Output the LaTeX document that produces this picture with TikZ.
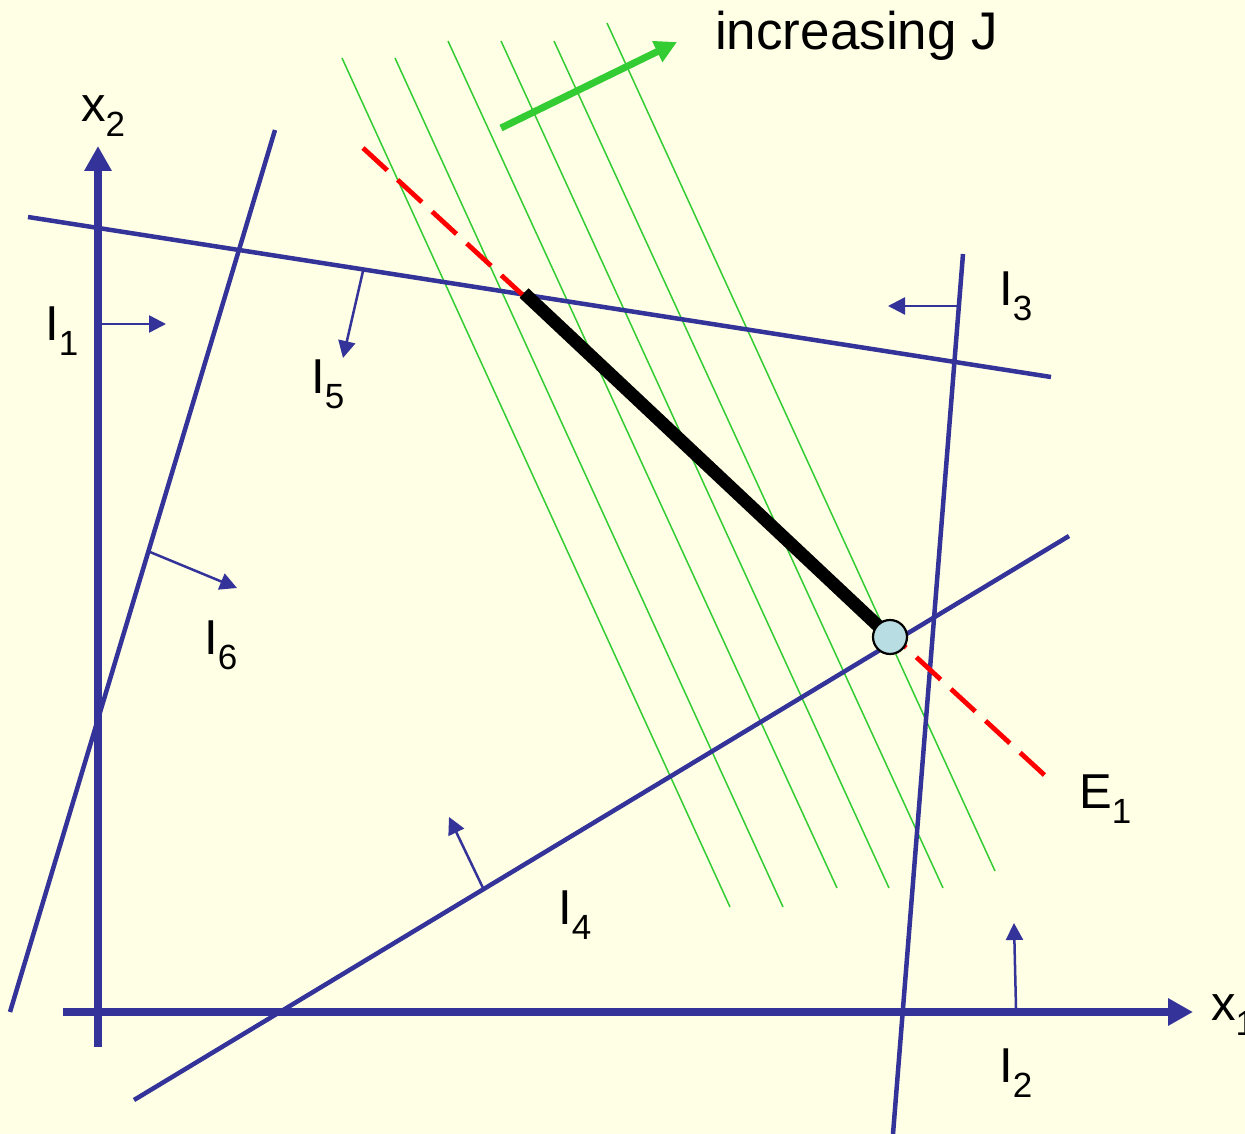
\documentclass[tikz,border=0pt]{standalone}
\usepackage{fontspec}
\setmainfont{Liberation Sans}
\usetikzlibrary{arrows.meta}
\definecolor{bg}{RGB}{255,255,229}
\definecolor{cblue}{RGB}{51,51,153}
\definecolor{cgreen}{RGB}{51,204,51}
\definecolor{cfill}{RGB}{184,222,227}
\newcommand\lsub[2]{#1\raisebox{-15pt}{\fontsize{35}{35}\selectfont #2}}
\begin{document}
\begin{tikzpicture}[x=1pt,y=-1pt,
 cline/.style={cblue, line width=4.5pt},
 axisline/.style={cblue, line width=7.5pt, -{Triangle[length=25pt,width=26pt]}},
 normarrow/.style={cblue, line width=2.5pt, -{Triangle[length=17pt,width=17pt]}},
 levelline/.style={cgreen, line width=1.5pt},
 lab/.style={inner sep=0pt, anchor=base west, font=\fontsize{49}{58}\selectfont},
]
\useasboundingbox (0,0) rectangle (1245,1134);
\fill[bg] (0,0) rectangle (1245,1134);

% level lines of J
\foreach \xa/\ya/\xb/\yb in {342/58/730/907, 395/58/783/907, 448/41/837/888, 501/41/889/888, 554/41/943/888, 607/23/995/871}
  \draw[levelline] (\xa,\ya) -- (\xb,\yb);

% increasing J arrow
\coordinate (jA) at (501,128);
\coordinate (jB) at (677,42);
\draw[cgreen, line width=7pt, -{Triangle[length=22pt,width=22pt]}] (jA) -- (jB);
\node[lab, font=\fontsize{53}{62}\selectfont] (incJ) at (715,50) {increasing J};

% constraint lines
\coordinate (l5a) at (28,217);  \coordinate (l5b) at (1051,377);
\coordinate (l6a) at (275,130); \coordinate (l6b) at (10,1012);
\coordinate (l3a) at (963,254); \coordinate (l3b) at (893,1134);
\coordinate (l4a) at (134,1100);\coordinate (l4b) at (1069,536);
\draw[cline] (l5a) -- (l5b);
\draw[cline] (l6a) -- (l6b);
\draw[cline] (l3a) -- (l3b);
\draw[cline] (l4a) -- (l4b);

% axes
\coordinate (o2) at (98,1047); \coordinate (t2) at (98,146);
\coordinate (o1) at (63,1012); \coordinate (t1) at (1193,1012);
\draw[axisline] (o2) -- (t2);
\draw[axisline] (o1) -- (t1);

% feasible-side arrows
\coordinate (n1a) at (101,324);  \coordinate (n1b) at (166,324);
\coordinate (n5a) at (363,271);  \coordinate (n5b) at (343,358);
\coordinate (n3a) at (957,306);  \coordinate (n3b) at (888,306);
\coordinate (n6a) at (150,552);  \coordinate (n6b) at (237,588);
\coordinate (n4a) at (483,888);  \coordinate (n4b) at (449,817);
\coordinate (n2a) at (1016,1008);\coordinate (n2b) at (1014,923);
\foreach \p in {1,5,3,6,4,2}
  \draw[normarrow] (n\p a) -- (n\p b);

% labels
\node[lab] (L1) at (45,340) {\lsub{I}{1}};
\node[lab] (L5) at (311,393) {\lsub{I}{5}};
\node[lab] (L3) at (999,305) {\lsub{I}{3}};
\node[lab] (L6) at (204,654) {\lsub{I}{6}};
\node[lab] (L4) at (558,924) {\lsub{I}{4}};
\node[lab] (L2) at (999,1082) {\lsub{I}{2}};
\node[lab] (X2) at (81,122) {\lsub{x}{2}};
\node[lab] (X1) at (1211,1020) {\lsub{x}{1}};
\node[lab] (E1) at (1079,808) {\lsub{E}{1}};

% E1 line
\coordinate (eA) at (363,148);
\coordinate (eB) at (1052,782);
\draw[red, line width=4.8pt, dash pattern=on 33pt off 14pt] (eA) -- (eB);

% optimal segment and point
\coordinate (sA) at (524,293);
\coordinate (pt) at (890,637);
\draw[black, line width=13pt] (sA) -- (pt);
\node[circle, draw=black, line width=2.2pt, fill=cfill, minimum size=34pt, inner sep=0pt] (opt) at (pt) {};
\end{tikzpicture}
\end{document}
